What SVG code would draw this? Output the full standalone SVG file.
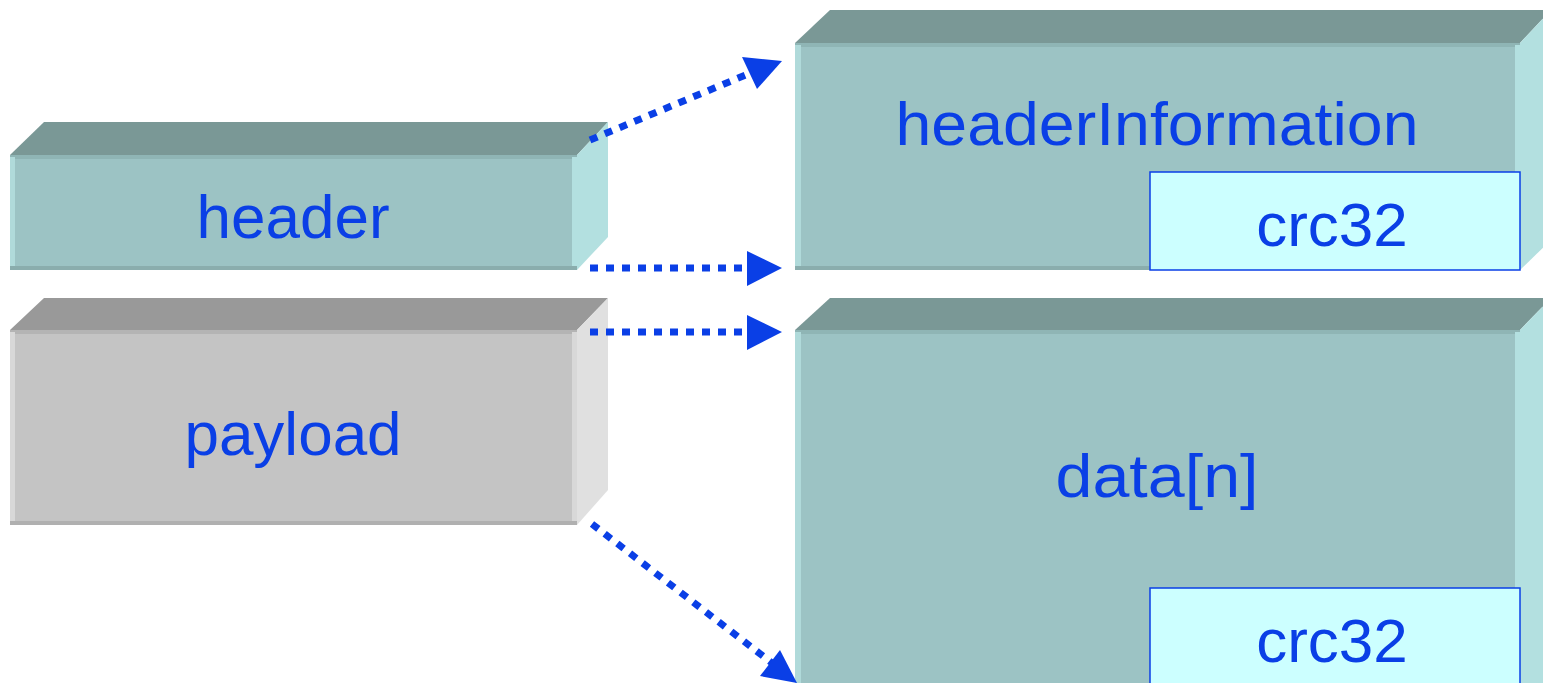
<svg xmlns="http://www.w3.org/2000/svg" width="1543" height="683" viewBox="0 0 1543 683">
<defs>
<style>
.lbl{font-family:"Liberation Sans",Arial,sans-serif;font-size:62px;fill:#0A3FE6;text-anchor:middle}
.tf{fill:#7A9896}.ff{fill:#9CC3C4}.sf{fill:#B3E0E0}.ls{fill:#B0DADA}.bs{fill:#8AADAD}.ts{fill:#8FB5B5}
.tg{fill:#999999}.fg{fill:#C4C4C4}.sg{fill:#E0E0E0}.lg{fill:#D8D8D8}.bg{fill:#B0B0B0}.tsg{fill:#B4B4B4}
.crc{fill:#CCFFFF;stroke:#0A3FE6;stroke-width:1.5}
.con{fill:none;stroke:#0A3FE6;stroke-width:7;stroke-dasharray:8 8}
.head{fill:#0A3FE6}
</style>
</defs>
<rect width="1543" height="683" fill="#FFFFFF"/>
<g id="header">
<polygon class="tf" points="10,155 44,122 608,122 577,155"/>
<polygon class="sf" points="577,155 608,122 608,237 577,270"/>
<rect class="ff" x="10" y="155" width="567" height="115"/>
<rect class="ts" x="10" y="155" width="567" height="4"/>
<rect class="ls" x="10" y="157" width="5" height="113"/>
<rect class="sf" x="572" y="157" width="5" height="113"/>
<rect class="bs" x="10" y="266" width="567" height="4"/>
<text class="lbl" x="293" y="238">header</text>
</g>
<g id="payload">
<polygon class="tg" points="10,330 44,298 608,298 577,330"/>
<polygon class="sg" points="577,330 608,298 608,490 577,525"/>
<rect class="fg" x="10" y="330" width="567" height="195"/>
<rect class="tsg" x="10" y="330" width="567" height="4"/>
<rect class="lg" x="10" y="332" width="5" height="193"/>
<rect class="lg" x="572" y="332" width="5" height="193"/>
<rect class="bg" x="10" y="521" width="567" height="4"/>
<text class="lbl" x="293" y="455">payload</text>
</g>
<g id="headerInformation">
<polygon class="tf" points="795,43 830,10 1551,10 1520,43"/>
<polygon class="sf" points="1520,43 1551,10 1551,240 1520,270"/>
<rect class="ff" x="795" y="43" width="725" height="227"/>
<rect class="ts" x="795" y="43" width="725" height="4"/>
<rect class="ls" x="795" y="45" width="6" height="225"/>
<rect class="sf" x="1515" y="45" width="5" height="225"/>
<rect class="bs" x="795" y="266" width="725" height="4"/>
<text class="lbl" x="1157" y="145" textLength="523" lengthAdjust="spacingAndGlyphs">headerInformation</text>
</g>
<g id="crc32-header">
<rect class="crc" x="1150" y="172" width="370" height="98"/>
<text class="lbl" x="1332" y="246">crc32</text>
</g>
<g id="data">
<polygon class="tf" points="795,330 830,298 1551,298 1520,330"/>
<polygon class="sf" points="1520,330 1551,298 1551,683 1520,683"/>
<rect class="ff" x="795" y="330" width="725" height="360"/>
<rect class="ts" x="795" y="330" width="725" height="4"/>
<rect class="ls" x="795" y="332" width="6" height="360"/>
<rect class="sf" x="1515" y="332" width="5" height="360"/>
<text class="lbl" x="1157" y="497" textLength="203" lengthAdjust="spacingAndGlyphs">data[n]</text>
</g>
<g id="crc32-data">
<rect class="crc" x="1150" y="588" width="370" height="110"/>
<text class="lbl" x="1332" y="662">crc32</text>
</g>
<g id="connectors">
<line class="con" x1="590" y1="140" x2="748" y2="74"/>
<polygon class="head" points="782,61 742,57 757,89"/>
<line class="con" x1="590" y1="268" x2="748" y2="268"/>
<polygon class="head" points="782,268 747,251 747,286"/>
<line class="con" x1="590" y1="332" x2="748" y2="332"/>
<polygon class="head" points="782,332 747,315 747,350"/>
<line class="con" x1="592" y1="524" x2="772" y2="663"/>
<polygon class="head" points="797,683 780,650 760,676"/>
</g>
</svg>
